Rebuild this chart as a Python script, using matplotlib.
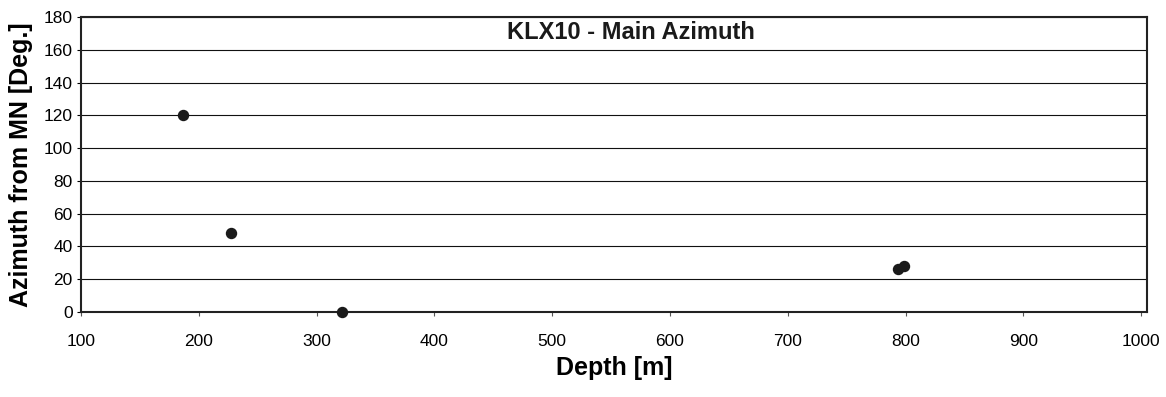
import matplotlib.pyplot as plt

plt.rcParams['font.family'] = ['Liberation Sans', 'DejaVu Sans']

# data
depth = [187, 227, 322, 794, 799]
azimuth = [120, 48.5, 0, 26, 28]

y_ticks = list(range(0, 181, 20))
x_ticks = list(range(100, 1001, 100))

fig = plt.figure(figsize=(11.66, 3.97), dpi=100)
ax = fig.add_axes([81 / 1166, 1 - 312 / 397, (1147 - 81) / 1166, (312 - 17) / 397])

for y in y_ticks:
    ax.axhline(y, color='#111111', lw=0.8, zorder=1)

ax.plot(depth, azimuth, 'o', color='#1a1a1a', ms=7.2, mec='#1a1a1a', zorder=3, clip_on=False)

ax.set_xlim(100, 1005)
ax.set_ylim(0, 180)
ax.set_xticks(x_ticks)
ax.set_yticks(y_ticks)
ax.tick_params(axis='x', direction='out', length=3, width=0.8, color='#555555', pad=13, labelsize=12.5)
ax.tick_params(axis='y', direction='out', length=3, width=0.8, pad=3, labelsize=12.5)

for s in ax.spines.values():
    s.set_linewidth(1.5)
    s.set_color('#222222')

ax.text(0.516, 0.946, 'KLX10 - Main Azimuth', transform=ax.transAxes,
        ha='center', va='center', fontsize=17, fontweight='bold', color='#1a1a1a')
ax.set_xlabel('Depth [m]', fontsize=18, fontweight='bold', labelpad=5)
ax.set_ylabel('Azimuth from MN [Deg.]', fontsize=18, fontweight='bold', labelpad=8)

fig.savefig('out.png', dpi=100)
